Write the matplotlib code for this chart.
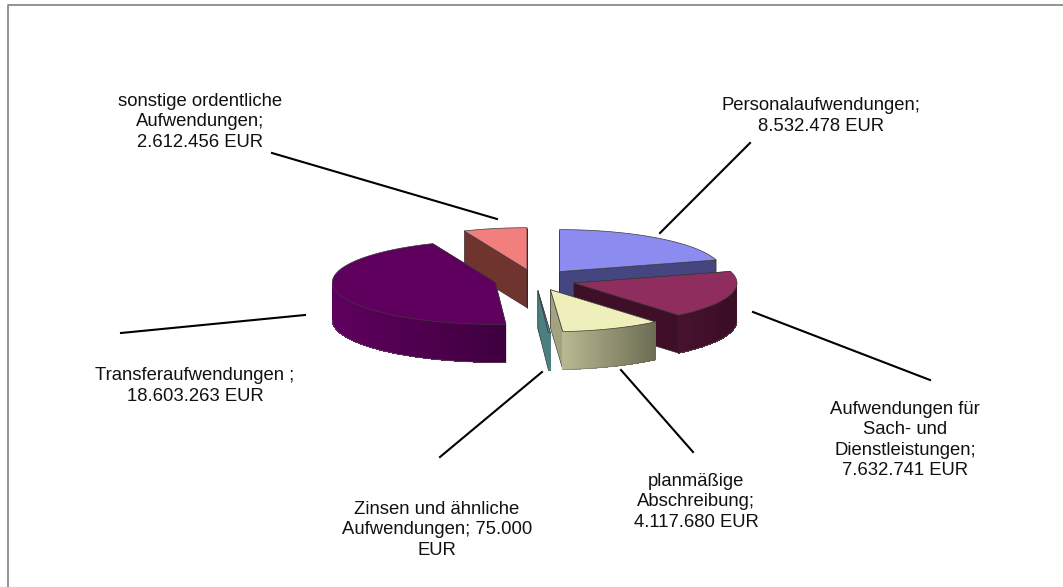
import numpy as np
import matplotlib
matplotlib.use("Agg")
import matplotlib.pyplot as plt
from matplotlib.patches import Polygon
from matplotlib.colors import to_rgb

#data
labels = ["Personalaufwendungen;\n8.532.478 EUR",
          "Aufwendungen für\nSach- und\nDienstleistungen;\n7.632.741 EUR",
          "planmäßige\nAbschreibung;\n4.117.680 EUR",
          "Zinsen und ähnliche\nAufwendungen; 75.000\nEUR",
          "Transferaufwendungen ;\n18.603.263 EUR",
          "sonstige ordentliche\nAufwendungen;\n2.612.456 EUR"]
values = [8532478, 7632741, 4117680, 75000, 18603263, 2612456]

#style
top_colors = ["#8c8cf0", "#8f2d5f", "#efefbc", "#5f9595", "#5f005f", "#f27e7e"]
face_colors = ["#45457f", "#3f0f28", "#a3a380", "#4c7f7f", "#4a004a", "#70342f"]
rim_left = ["#45457f", "#47122e", "#b8b892", "#4c7f7f", "#5e005e", "#70342f"]
rim_right = ["#45457f", "#3a0c25", "#6c6c53", "#4c7f7f", "#3e003e", "#70342f"]
draw_order = [5, 0, 1, 4, 3, 2]
label_pos = [(821, 116), (905, 440), (696, 502), (437, 530), (195, 386), (200, 122)]
leaders = [((750, 143), (660, 233)), ((753, 312), (930, 380)), ((621, 370), (693, 452)),
           ((440, 457), (542, 372)), ((121, 333), (305, 315)), ((272, 153), (497, 219))]

#pie geometry in pixels
cx, cy = 535, 280
r = 163
ry = 42
depth = 38
explode = 0.25


def project(t, ox, oy):
    return ox + r * np.sin(t), oy - ry * np.cos(t)


def draw_slice(ax, t0, t1, i):
    mid = (t0 + t1) / 2
    ox = cx + explode * r * np.sin(mid)
    oy = cy - explode * ry * np.cos(mid)

    # flat cut faces first, whatever faces backwards gets covered later
    for t in (t0, t1):
        x, y = project(t, ox, oy)
        ax.add_patch(Polygon([(ox, oy), (x, y), (x, y + depth), (ox, oy + depth)],
                             fc=face_colors[i], ec="#2a2a2a", lw=0.4))

    # outer wall, only the front part, cut in overlapping strips for the gradient
    a0 = max(t0, np.pi / 2)
    a1 = min(t1, 3 * np.pi / 2)
    if a1 > a0:
        ts = np.linspace(a0, a1, 80)
        xs, ys = project(ts, ox, oy)
        xmin, xmax = xs.min(), xs.max()
        c_l = np.array(to_rgb(rim_left[i]))
        c_r = np.array(to_rgb(rim_right[i]))
        for j in range(len(ts) - 1):
            k = min(j + 3, len(ts) - 1)
            f = ((xs[j] + xs[j + 1]) / 2 - xmin) / max(xmax - xmin, 1)
            col = c_l + (c_r - c_l) * f
            seg_x = xs[j:k + 1]
            seg_y = ys[j:k + 1]
            pts = list(zip(seg_x, seg_y)) + list(zip(seg_x[::-1], seg_y[::-1] + depth))
            ax.add_patch(Polygon(pts, fc=col, ec="none", antialiased=False))
        ax.plot(xs, ys + depth, color="#666666", lw=0.5, alpha=0.7)

    # top
    ts = np.linspace(t0, t1, 100)
    xs, ys = project(ts, ox, oy)
    pts = [(ox, oy)] + list(zip(xs, ys))
    ax.add_patch(Polygon(pts, fc=top_colors[i], ec="#3a3a3a", lw=0.5))


fig = plt.figure(figsize=(10.63, 5.87), dpi=100)
ax = fig.add_axes([0, 0, 1, 1])
ax.set_xlim(0, 1063)
ax.set_ylim(587, 0)
ax.axis("off")

#chart border, only left and top are in the picture
ax.plot([8, 8, 1063], [587, 5, 5], color="#808080", lw=1.2)

angles = np.cumsum([0] + values) / sum(values) * 2 * np.pi
for i in draw_order:
    draw_slice(ax, angles[i], angles[i + 1], i)

for (p0, p1) in leaders:
    ax.plot([p0[0], p1[0]], [p0[1], p1[1]], color="black", lw=1.5)

for lab, (x, y) in zip(labels, label_pos):
    ax.text(x, y, lab, ha="center", va="center", fontsize=13.35,
            family="Liberation Sans", linespacing=1.25, color="#111111")

fig.savefig("out.png", dpi=100)
